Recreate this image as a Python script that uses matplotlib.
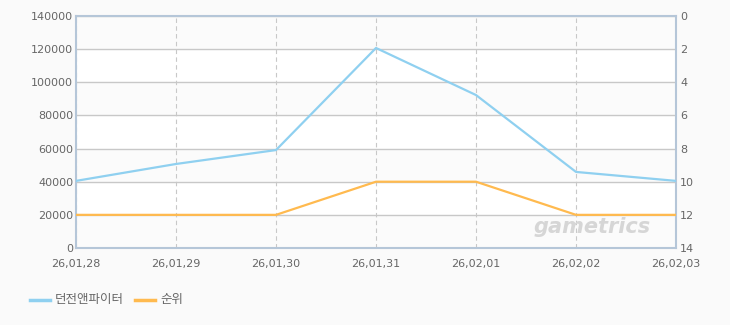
import numpy as np
import matplotlib.pyplot as plt

plt.rcParams['font.family'] = ['DejaVu Sans', 'Noto Sans CJK KR']

dates = ['26,01,28', '26,01,29', '26,01,30', '26,01,31', '26,02,01', '26,02,02', '26,02,03']
users = [40500, 50700, 59100, 120700, 92300, 45900, 40500]
rank = [12, 12, 12, 10, 10, 12, 12]

blue = '#8fd0f0'
orange = '#ffba4f'
tick_col = '#666666'

fig = plt.figure(figsize=(7.3, 3.25), dpi=100, facecolor='#fafafa')
ax = fig.add_axes([76 / 730, 1 - 248 / 325, 600 / 730, 232 / 325])
ax.set_facecolor('white')
x = np.arange(len(dates))

# alternating bands
for i, lo in enumerate(range(0, 140000, 20000)):
    if i % 2 == 0:
        ax.axhspan(lo, lo + 20000, color='#fbfbfb', zorder=0)

ax.set_xlim(0, len(dates) - 1)
ax.set_ylim(0, 140000)
ax.set_yticks(range(0, 140001, 20000))
ax.set_xticks(x)
ax.set_xticklabels(dates)
ax.grid(axis='y', color='#c8c8c8', lw=1, zorder=1)
ax.grid(axis='x', color='#c8c8c8', lw=0.8, ls=(0, (4, 3)), zorder=1)
ax.tick_params(axis='y', length=0, labelsize=8, colors=tick_col, pad=2)
ax.tick_params(axis='x', length=0, labelsize=8, colors=tick_col, pad=8)

for s in ['left', 'top', 'right', 'bottom']:
    ax.spines[s].set_color('#b5c6d8')
    ax.spines[s].set_linewidth(1.5)

ax.plot(x, users, color=blue, lw=1.6, zorder=3)

ax2 = ax.twinx()
ax2.set_ylim(14, 0)
ax2.set_yticks(range(0, 15, 2))
ax2.tick_params(length=0, labelsize=8, colors=tick_col, pad=3)
for s in ax2.spines.values():
    s.set_visible(False)
ax2.plot(x, rank, color=orange, lw=1.6, zorder=3)

ax.text(0.86, 0.09, 'gametrics', transform=ax.transAxes, ha='center', va='center',
        fontsize=15, fontstyle='italic', fontweight='bold', color='#d6d6d6', zorder=2)

# legend
fig.lines.append(plt.Line2D([30 / 730, 50 / 730], [1 - 300 / 325] * 2, color=blue, lw=2.5, transform=fig.transFigure))
fig.text(55 / 730, 1 - 300 / 325, '던전앤파이터', fontsize=9, color=tick_col, va='center',
         family=['Noto Sans CJK KR'])
fig.lines.append(plt.Line2D([135 / 730, 155 / 730], [1 - 300 / 325] * 2, color=orange, lw=2.5, transform=fig.transFigure))
fig.text(160 / 730, 1 - 300 / 325, '순위', fontsize=9, color=tick_col, va='center',
         family=['Noto Sans CJK KR'])

fig.savefig('out.png', dpi=100, facecolor=fig.get_facecolor())
